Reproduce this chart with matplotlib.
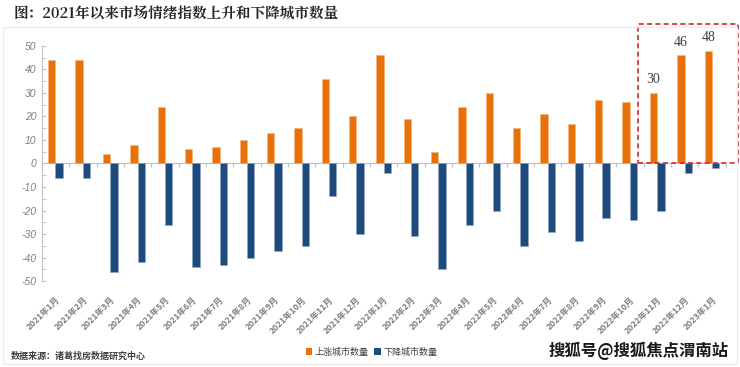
import matplotlib.pyplot as plt
from matplotlib.patches import Rectangle
import numpy as np

plt.rcParams['font.family'] = ['Noto Sans CJK SC', 'DejaVu Sans']

months = ['2021年1月', '2021年2月', '2021年3月', '2021年4月', '2021年5月', '2021年6月',
          '2021年7月', '2021年8月', '2021年9月', '2021年10月', '2021年11月', '2021年12月',
          '2022年1月', '2022年2月', '2022年3月', '2022年4月', '2022年5月', '2022年6月',
          '2022年7月', '2022年8月', '2022年9月', '2022年10月', '2022年11月', '2022年12月',
          '2023年1月']
up = [44, 44, 4, 8, 24, 6, 7, 10, 13, 15, 36, 20, 46, 19, 5, 24, 30, 15, 21, 17, 27, 26, 30, 46, 48]
down = [-6, -6, -46, -42, -26, -44, -43, -40, -37, -35, -14, -30, -4, -31, -45, -26, -20,
        -35, -29, -33, -23, -24, -20, -4, -2]
marked = [22, 23, 24]   # bars with value labels inside the red box

orange = '#E8710A'
blue = '#1F4A7C'
grey = '#7F7F7F'

fig = plt.figure(figsize=(7.4, 3.67), dpi=100)
fig.patch.set_facecolor('white')
ax = fig.add_axes([0.0565, 0.234, 0.924, 0.641])

x = np.arange(len(months))
w = 0.27
ax.bar(x - w / 2, up, w, color=orange, edgecolor='#F5B57A', linewidth=0.4, label='上涨城市数量', zorder=3)
ax.bar(x + w / 2, down, w, color=blue, edgecolor='#8FA8C8', linewidth=0.4, label='下降城市数量', zorder=3)

ax.set_xlim(-0.5, len(months) - 0.5)
ax.set_ylim(-50, 50)
ax.set_yticks(range(-50, 51, 10))
ax.set_yticks(range(-45, 50, 10), minor=True)
ax.set_yticklabels([str(v) for v in range(-50, 51, 10)], fontstyle='italic',
                   family='Liberation Sans', fontsize=7.5, color=grey)
ax.tick_params(axis='y', which='both', direction='in', length=3, color='#BFBFBF', pad=4)

ax.set_xticks(x)
ax.set_xticklabels(months, rotation=45, ha='right', rotation_mode='anchor',
                   fontsize=6.2, color=grey, fontweight='bold')
ax.tick_params(axis='x', length=0, pad=10)

for s in ['top', 'right', 'bottom']:
    ax.spines[s].set_visible(False)
ax.spines['left'].set_color('#BFBFBF')
ax.spines['left'].set_linewidth(0.8)

# zero line with small category ticks
ax.axhline(0, color='#BFBFBF', lw=0.8, zorder=2)
bounds = np.arange(len(months) + 1) - 0.5
ax.plot(bounds, np.zeros(len(bounds)), ls='none', marker=3, ms=3, mew=0.8,
        color='#BFBFBF', zorder=2)

for i in marked:
    ax.text(x[i] - w / 2, up[i] + 2.8, str(up[i]), ha='center', va='bottom',
            family='Liberation Serif', fontsize=10, color='#404040')

ax.add_patch(Rectangle((21.3, 0), 3.66, 59.5, fill=False, ec='#D62728', lw=1.2,
                       ls=(0, (3, 2)), clip_on=False, zorder=4))

fig.text(0.018, 0.962, '图：2021年以来市场情绪指数上升和下降城市数量', fontsize=10.5,
         fontweight='bold', color='#262626', va='center', ha='left',
         family=['Noto Serif CJK SC', 'Noto Sans CJK SC', 'DejaVu Sans'])
fig.text(0.014, 0.03, '数据来源：诸葛找房数据研究中心', fontsize=6.5, fontweight='bold',
         color='#404040', va='center', ha='left')

leg = fig.legend(loc='center', bbox_to_anchor=(0.502, 0.041), ncol=2, frameon=False,
                 fontsize=6.5, handlelength=0.7, handleheight=0.7, handletextpad=0.3,
                 columnspacing=0.6, labelcolor='#404040')
for h in leg.legend_handles:
    h.set_edgecolor('none')

fig.text(0.985, 0.045, '搜狐号@搜狐焦点渭南站', fontsize=11.8, fontweight='bold',
         color='#1A1A1A', va='center', ha='right')

fig.add_artist(Rectangle((0.004, 0.008), 0.992, 0.918, transform=fig.transFigure,
                         fill=False, ec='#ECECE6', lw=0.8))

fig.savefig('out.png', dpi=100, facecolor='white')
